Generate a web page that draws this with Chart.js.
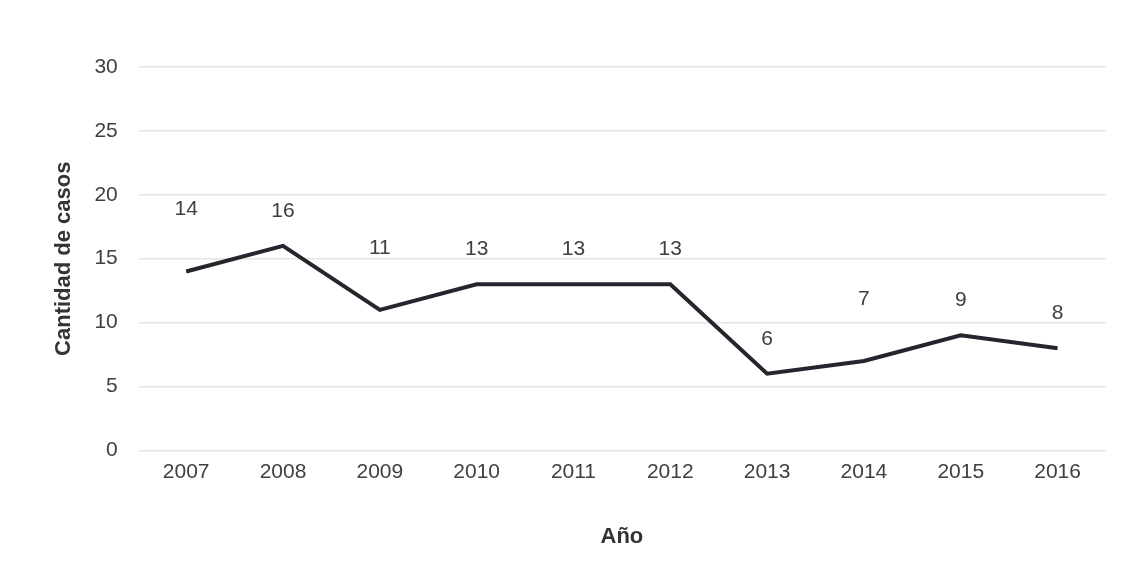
<!DOCTYPE html>
<html>
<head>
<meta charset="utf-8">
<script src="https://cdn.jsdelivr.net/npm/chart.js@4.4.0/dist/chart.umd.min.js"></script>
<style>
  html, body { margin: 0; padding: 0; background: #fff; }
  #wrap { width: 1122px; height: 576px; }
</style>
</head>
<body>
<div id="wrap"><canvas id="grafico"></canvas></div>
<script>
// datos: casos por año
const anios = ['2007', '2008', '2009', '2010', '2011', '2012', '2013', '2014', '2015', '2016'];
const casos = [14, 16, 11, 13, 13, 13, 6, 7, 9, 8];
const ticksY = [0, 5, 10, 15, 20, 25, 30];

const fuente = "'Liberation Sans', Arial, sans-serif";

// etiquetas de valor encima de cada punto
const etiquetas = {
    id: 'etiquetas',
    afterDatasetsDraw(chart) {
        const c = chart.ctx;
        const meta = chart.getDatasetMeta(0);
        const vals = chart.data.datasets[0].data;
        c.save();
        c.font = '21px ' + fuente;
        c.fillStyle = '#404040';
        c.textAlign = 'center';
        c.textBaseline = 'middle';
        meta.data.forEach((p, i) => {
            // si la linea sube mucho hacia la derecha, subir la etiqueta
            let lift = 35;
            if (i < vals.length - 1 && vals[i + 1] - vals[i] >= 2) lift = 62;
            c.fillText(vals[i], p.x, p.y - lift);
        });
        c.restore();
    }
};

const ctx = document.getElementById('grafico').getContext('2d');
const grafico = new Chart(ctx, {
    type: 'line',
    data: {
        labels: anios,
        datasets: [{
            label: 'Cantidad de casos',
            data: casos,
            borderColor: '#25252d',
            borderWidth: 4,
            pointRadius: 0,
            tension: 0,
            fill: false
        }]
    },
    options: {
        responsive: true,
        maintainAspectRatio: false,
        animation: false,
        layout: { padding: { top: 67, right: 16, bottom: 26, left: 51 } },
        plugins: {
            legend: { display: false },
            tooltip: { enabled: false }
        },
        scales: {
            x: {
                offset: true,
                grid: { display: false },
                border: { display: false },
                ticks: { color: '#404040', font: { family: fuente, size: 21 }, padding: 1 },
                title: {
                    display: true, text: 'Año', color: '#333',
                    font: { family: fuente, size: 22, weight: 'bold' }, padding: { top: 38, bottom: 0 }
                }
            },
            y: {
                min: 0,
                max: 30,
                afterBuildTicks(axis) { axis.ticks = ticksY.map(v => ({ value: v })); },
                grid: { color: '#e6e6e6', lineWidth: 1.5, drawTicks: false },
                border: { display: false },
                ticks: { color: '#404040', font: { family: fuente, size: 21 }, padding: 20 },
                title: {
                    display: true, text: 'Cantidad de casos', color: '#333',
                    font: { family: fuente, size: 22, weight: 'bold' }, padding: { top: 0, bottom: -3 }
                }
            }
        }
    },
    plugins: [etiquetas]
});
</script>
</body>
</html>
